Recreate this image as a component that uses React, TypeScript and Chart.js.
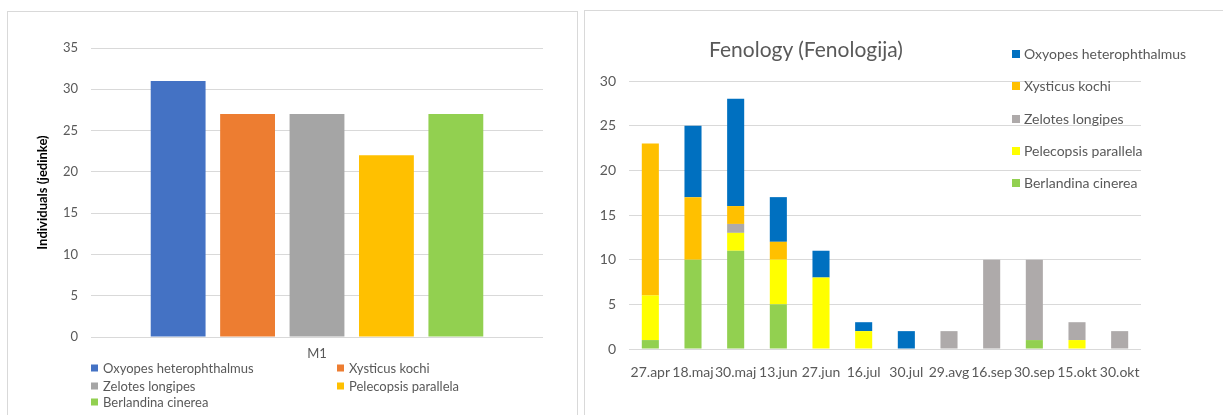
import React, { useEffect, useRef } from "react";
import { Chart, registerables } from "chart.js";

Chart.register(...registerables);

// ---------- Data ----------
const speciesNames = [
  "Oxyopes heterophthalmus",
  "Xysticus kochi",
  "Zelotes longipes",
  "Pelecopsis parallela",
  "Berlandina cinerea",
];

// Left chart: totals at site M1
const siteCategories = ["M1"];
const siteTotals = [31, 27, 27, 22, 27];
const siteColors = ["#4472C4", "#ED7D31", "#A5A5A5", "#FFC000", "#92D050"];
const siteYMax = 35;
const siteYStep = 5;

// Right chart: phenology by sampling date
const sampleDates = [
  "27.apr", "18.maj", "30.maj", "13.jun", "27.jun", "16.jul",
  "30.jul", "29.avg", "16.sep", "30.sep", "15.okt", "30.okt",
];
const oxyopesCounts = [0, 8, 12, 5, 3, 1, 2, 0, 0, 0, 0, 0];
const xysticusCounts = [17, 7, 2, 2, 0, 0, 0, 0, 0, 0, 0, 0];
const zelotesCounts = [0, 0, 1, 0, 0, 0, 0, 2, 10, 9, 2, 2];
const pelecopsisCounts = [5, 0, 2, 5, 8, 2, 0, 0, 0, 0, 1, 0];
const berlandinaCounts = [1, 10, 11, 5, 0, 0, 0, 0, 0, 1, 0, 0];
const phenoColors = ["#0070C0", "#FFC000", "#AEAAAA", "#FFFF00", "#92D050"];
const phenoYMax = 30;
const phenoYStep = 5;
const phenoTitle = "Fenology (Fenologija)";
const siteAxisTitle = "Individuals (jedinke)";

const FONT = "Lato, 'Liberation Sans', sans-serif";
const TEXT_GRAY = "#595959";
const GRID = "#D9D9D9";

function SiteChart() {
  const ref = useRef<HTMLCanvasElement | null>(null);
  useEffect(() => {
    if (!ref.current) return;
    const chart = new Chart(ref.current, {
      type: "bar",
      data: {
        labels: siteCategories,
        datasets: speciesNames.map((name, i) => ({
          label: name,
          data: [siteTotals[i]],
          backgroundColor: siteColors[i],
          borderWidth: 0,
          categoryPercentage: 0.768,
          barPercentage: 0.79,
        })),
      },
      options: {
        responsive: false,
        animation: false,
        layout: { padding: { left: 0, right: 35, top: 35, bottom: 49 } },
        plugins: { legend: { display: false }, tooltip: { enabled: false } },
        scales: {
          x: {
            grid: { display: false, drawTicks: false },
            border: { display: false },
            ticks: { color: TEXT_GRAY, font: { family: FONT, size: 13 }, padding: 9 },
            afterFit: (s: any) => { s.height = 30; },
          },
          y: {
            min: 0,
            max: siteYMax,
            grid: { color: GRID, lineWidth: 1, drawTicks: false },
            border: { display: false },
            ticks: { stepSize: siteYStep, color: TEXT_GRAY, font: { family: FONT, size: 13 }, padding: 13 },
            title: {
              display: true,
              text: siteAxisTitle,
              color: "#000000",
              font: { family: FONT, size: 13, weight: "bold" },
              padding: { top: 26, bottom: 0 },
            },
            afterFit: (s: any) => { s.width = 82; },
          },
        },
      },
    });
    return () => chart.destroy();
  }, []);
  return <canvas ref={ref} width={569} height={403} style={{ position: "absolute", left: 1, top: 1 }} />;
}

function PhenoChart() {
  const ref = useRef<HTMLCanvasElement | null>(null);
  useEffect(() => {
    if (!ref.current) return;
    const stackOrder = [
      { name: speciesNames[4], data: berlandinaCounts, color: phenoColors[4] },
      { name: speciesNames[3], data: pelecopsisCounts, color: phenoColors[3] },
      { name: speciesNames[2], data: zelotesCounts, color: phenoColors[2] },
      { name: speciesNames[1], data: xysticusCounts, color: phenoColors[1] },
      { name: speciesNames[0], data: oxyopesCounts, color: phenoColors[0] },
    ];
    const chart = new Chart(ref.current, {
      type: "bar",
      data: {
        labels: sampleDates,
        datasets: stackOrder.map((s) => ({
          label: s.name,
          data: s.data,
          backgroundColor: s.color,
          borderWidth: 0,
          categoryPercentage: 1,
          barPercentage: 0.4,
        })),
      },
      options: {
        responsive: false,
        animation: false,
        layout: { padding: { left: 0, right: 83, top: 69, bottom: 27 } },
        plugins: { legend: { display: false }, tooltip: { enabled: false } },
        scales: {
          x: {
            stacked: true,
            grid: { display: false, drawTicks: false },
            border: { display: false },
            ticks: {
              color: TEXT_GRAY,
              font: { family: FONT, size: 14 },
              padding: 15,
              autoSkip: false,
              maxRotation: 0,
              minRotation: 0,
            },
            afterFit: (s: any) => { s.height = 40; },
          },
          y: {
            stacked: true,
            min: 0,
            max: phenoYMax,
            grid: { color: GRID, lineWidth: 1, drawTicks: false },
            border: { display: false },
            ticks: { stepSize: phenoYStep, color: TEXT_GRAY, font: { family: FONT, size: 14 }, padding: 13 },
            afterFit: (s: any) => { s.width = 43; },
          },
        },
      },
    });
    return () => chart.destroy();
  }, []);
  return <canvas ref={ref} width={638} height={404} style={{ position: "absolute", left: 1, top: 1 }} />;
}

function LegendItem(props: { x: number; y: number; color: string; text: string; size: number; fontSize: number; gap: number }) {
  const { x, y, color, text, size, fontSize, gap } = props;
  return (
    <div style={{ position: "absolute", left: x, top: y, transform: "translateY(-50%)", display: "flex", alignItems: "center", whiteSpace: "nowrap" }}>
      <span style={{ display: "inline-block", width: size, height: size, background: color, marginRight: gap }} />
      <span style={{ fontFamily: FONT, fontSize, color: TEXT_GRAY, lineHeight: 1 }}>{text}</span>
    </div>
  );
}

export default function App() {
  // left legend: 2 columns, row-major (page coords minus panel origin 7,11)
  const leftLegend = speciesNames.map((name, i) => ({
    name,
    color: siteColors[i],
    x: (i % 2 === 0 ? 91 : 337) - 8,
    y: [368, 385.5, 402][Math.floor(i / 2)] - 12,
  }));
  const rightLegend = speciesNames.map((name, i) => ({
    name,
    color: phenoColors[i],
    x: 1012 - 585,
    y: 54 + i * 32.3 - 11,
  }));
  return (
    <div style={{ position: "absolute", left: 0, top: 0, width: 1223, height: 415, overflow: "hidden", background: "#fff" }}>
      <div style={{ position: "absolute", left: 7, top: 11, width: 571, height: 430, border: `1px solid ${GRID}`, boxSizing: "border-box" }}>
        <SiteChart />
        {leftLegend.map((l) => (
          <LegendItem key={l.name} x={l.x} y={l.y} color={l.color} text={l.name} size={7} fontSize={13} gap={5} />
        ))}
      </div>
      <div style={{ position: "absolute", left: 584, top: 10, width: 660, height: 430, border: `1px solid ${GRID}`, boxSizing: "border-box" }}>
        <PhenoChart />
        <div style={{ position: "absolute", left: 806 - 585, top: 48 - 11, transform: "translate(-50%, -50%)", whiteSpace: "nowrap", fontFamily: FONT, fontSize: 21, color: TEXT_GRAY, lineHeight: 1 }}>
          {phenoTitle}
        </div>
        {rightLegend.map((l) => (
          <LegendItem key={l.name} x={l.x} y={l.y} color={l.color} text={l.name} size={8} fontSize={14} gap={4} />
        ))}
      </div>
    </div>
  );
}
